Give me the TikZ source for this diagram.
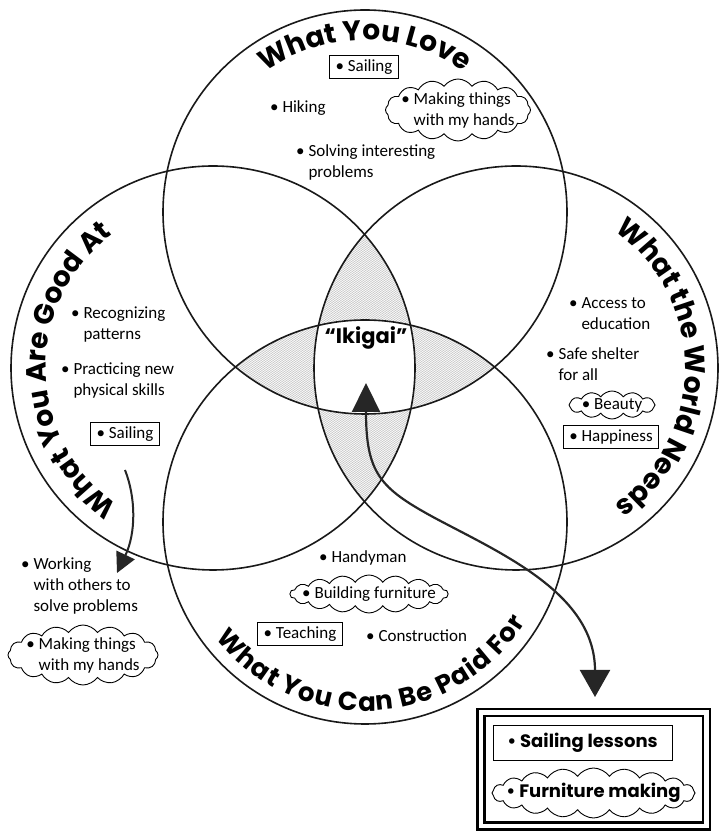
\documentclass[tikz,border=0pt]{standalone}
\usepackage{fontspec}
\setmainfont{Carlito}
\newfontfamily\titlefont{Poppins}
\usetikzlibrary{shapes.symbols,arrows.meta,decorations.text,calc}
\begin{document}
\begin{tikzpicture}[x=1pt,y=1pt,
  ring/.style={line width=1.6pt, draw=black!90},
  hatch/.style={draw=gray!45, line width=0.7pt},
  itemtext/.style={font=\fontsize{17}{21}\selectfont, align=left, inner sep=0pt, anchor=west},
  tagbox/.style={draw, fill=white, line width=0.9pt, font=\fontsize{17}{21}\selectfont, inner xsep=6pt, inner ysep=4pt},
  puff/.style={draw, fill=white, line width=0.9pt, cloud, cloud puffs=#1, cloud puff arc=110, cloud ignores aspect, inner sep=0pt},
  puff/.default=14,
  title/.style={decorate, decoration={text along path, text align=center, text={|\titlefont\bfseries\fontsize{28}{30}\selectfont|#1}}},
  fittitle/.style={decorate, decoration={text along path, text align=fit to path, text={|\titlefont\bfseries\fontsize{26}{28}\selectfont|#1}}},
  bigarrow/.style={line width=2.2pt, draw=black!85}
]
\useasboundingbox (0,0) rectangle (719,833);
% circle centres
\coordinate (T) at (365,621);
\coordinate (B) at (365,311);
\coordinate (L) at (213,465);
\coordinate (R) at (516,465);
\def\rr{202}
% hatching of the two lenses
\begin{scope}
  \clip (T) circle (\rr);
  \clip (B) circle (\rr);
  \foreach \s in {-350,-347,...,460} \draw[hatch] (\s,200) -- ++(35:720);
\end{scope}
\begin{scope}
  \clip (L) circle (\rr);
  \clip (R) circle (\rr);
  \foreach \s in {-350,-347,...,460} \draw[hatch] (\s,200) -- ++(35:720);
\end{scope}
\begin{scope}
  \clip (T) circle (\rr);
  \clip (B) circle (\rr);
  \clip (L) circle (\rr);
  \fill[white] (R) circle (\rr);
\end{scope}
% circles
\draw[ring] (T) circle (\rr);
\draw[ring] (B) circle (\rr);
\draw[ring] (L) circle (\rr);
\draw[ring] (R) circle (\rr);
% titles
\path[title={What You Love}] ($(T)+(160:172)$) arc[start angle=160, end angle=20, radius=172];
\path[title={What You Are Good At}] ($(L)+(251:167)$) arc[start angle=251, end angle=111, radius=167];
\path[title={What the World Needs}] ($(R)+(70:169)$) arc[start angle=70, end angle=-70, radius=169];
\path[fittitle={What You Can Be Paid For}] ($(B)+(218:189)$) arc[start angle=218, end angle=328, radius=189];
% centre
\node[font=\titlefont\bfseries\fontsize{21}{24}\selectfont] (ikigai) at (366,495) {“Ikigai”};
\coordinate (ikitip) at (366,450);
\coordinate (restip) at (595,136);
% result frame
\node[draw, double, line width=2.5pt, double distance=4.5pt, minimum width=225.5pt, minimum height=113.5pt, inner sep=0pt] (result) at (593.5,63.5) {};
\node[tagbox, minimum width=179pt, minimum height=35pt, font=\titlefont\bfseries\fontsize{18}{20}\selectfont] (lessons) at (582.5,90.5) {\textbullet\ Sailing lessons};
\node[puff=20, minimum width=203pt, minimum height=50pt] (furniturec) at (593.5,40) {};
\node[font=\titlefont\bfseries\fontsize{18}{20}\selectfont, inner sep=0pt] (furniture) at (furniturec) {\textbullet\ Furniture making};
% big arrow
\draw[bigarrow, {Triangle[length=29pt,width=28pt]}-{Triangle[length=27pt,width=30pt]}]
  (ikitip) .. controls (366,360) and (380,345) .. (433,316)
  .. controls (500,280) and (595,240) .. (restip);
% What you love
\node[tagbox] (love1) at (364,766) {\textbullet\ Sailing};
\node[itemtext] (love2) at (270,725) {\textbullet\ Hiking};
\node[puff=16, minimum width=145pt, minimum height=62pt] (love3c) at (458,723) {};
\node[itemtext, anchor=center] (love3) at (love3c) {\textbullet\ Making things\\\hphantom{\textbullet\ }with my hands};
\node[itemtext] (love4) at (296,670.5) {\textbullet\ Solving interesting\\\hphantom{\textbullet\ }problems};
% What you are good at
\node[itemtext] (good1) at (71,508) {\textbullet\ Recognizing\\\hphantom{\textbullet\ }patterns};
\node[itemtext] (good2) at (61,452.5) {\textbullet\ Practicing new\\\hphantom{\textbullet\ }physical skills};
\node[tagbox] (good3) at (125,399) {\textbullet\ Sailing};
\coordinate (goodstart) at (125,363);
\coordinate (goodtip) at (117,260);
\draw[line width=2pt, draw=black!85, -{Triangle[length=20pt,width=20pt]}] (goodstart) .. controls (136,335) and (136,300) .. (goodtip);
\node[itemtext] (out1) at (21,247) {\textbullet\ Working\\\hphantom{\textbullet\ }with others to\\\hphantom{\textbullet\ }solve problems};
\node[puff=16, minimum width=150pt, minimum height=60pt] (out2c) at (83,178) {};
\node[itemtext, anchor=center] (out2) at (out2c) {\textbullet\ Making things\\\hphantom{\textbullet\ }with my hands};
% What the world needs
\node[itemtext] (need1) at (569,519) {\textbullet\ Access to\\\hphantom{\textbullet\ }education};
\node[itemtext] (need2) at (546,468.5) {\textbullet\ Safe shelter\\\hphantom{\textbullet\ }for all};
\node[puff=12, minimum width=86pt, minimum height=28pt] (need3c) at (612,428) {};
\node[itemtext, anchor=center] (need3) at (need3c) {\textbullet\ Beauty};
\node[tagbox] (need4) at (611,396) {\textbullet\ Happiness};
% What you can be paid for
\node[itemtext] (paid1) at (319,275) {\textbullet\ Handyman};
\node[puff=18, minimum width=158pt, minimum height=38pt] (paid2c) at (369,239) {};
\node[itemtext, anchor=center] (paid2) at (paid2c) {\textbullet\ Building furniture};
\node[tagbox] (paid3) at (300,199) {\textbullet\ Teaching};
\node[itemtext] (paid4) at (366,197) {\textbullet\ Construction};
\end{tikzpicture}
\end{document}
